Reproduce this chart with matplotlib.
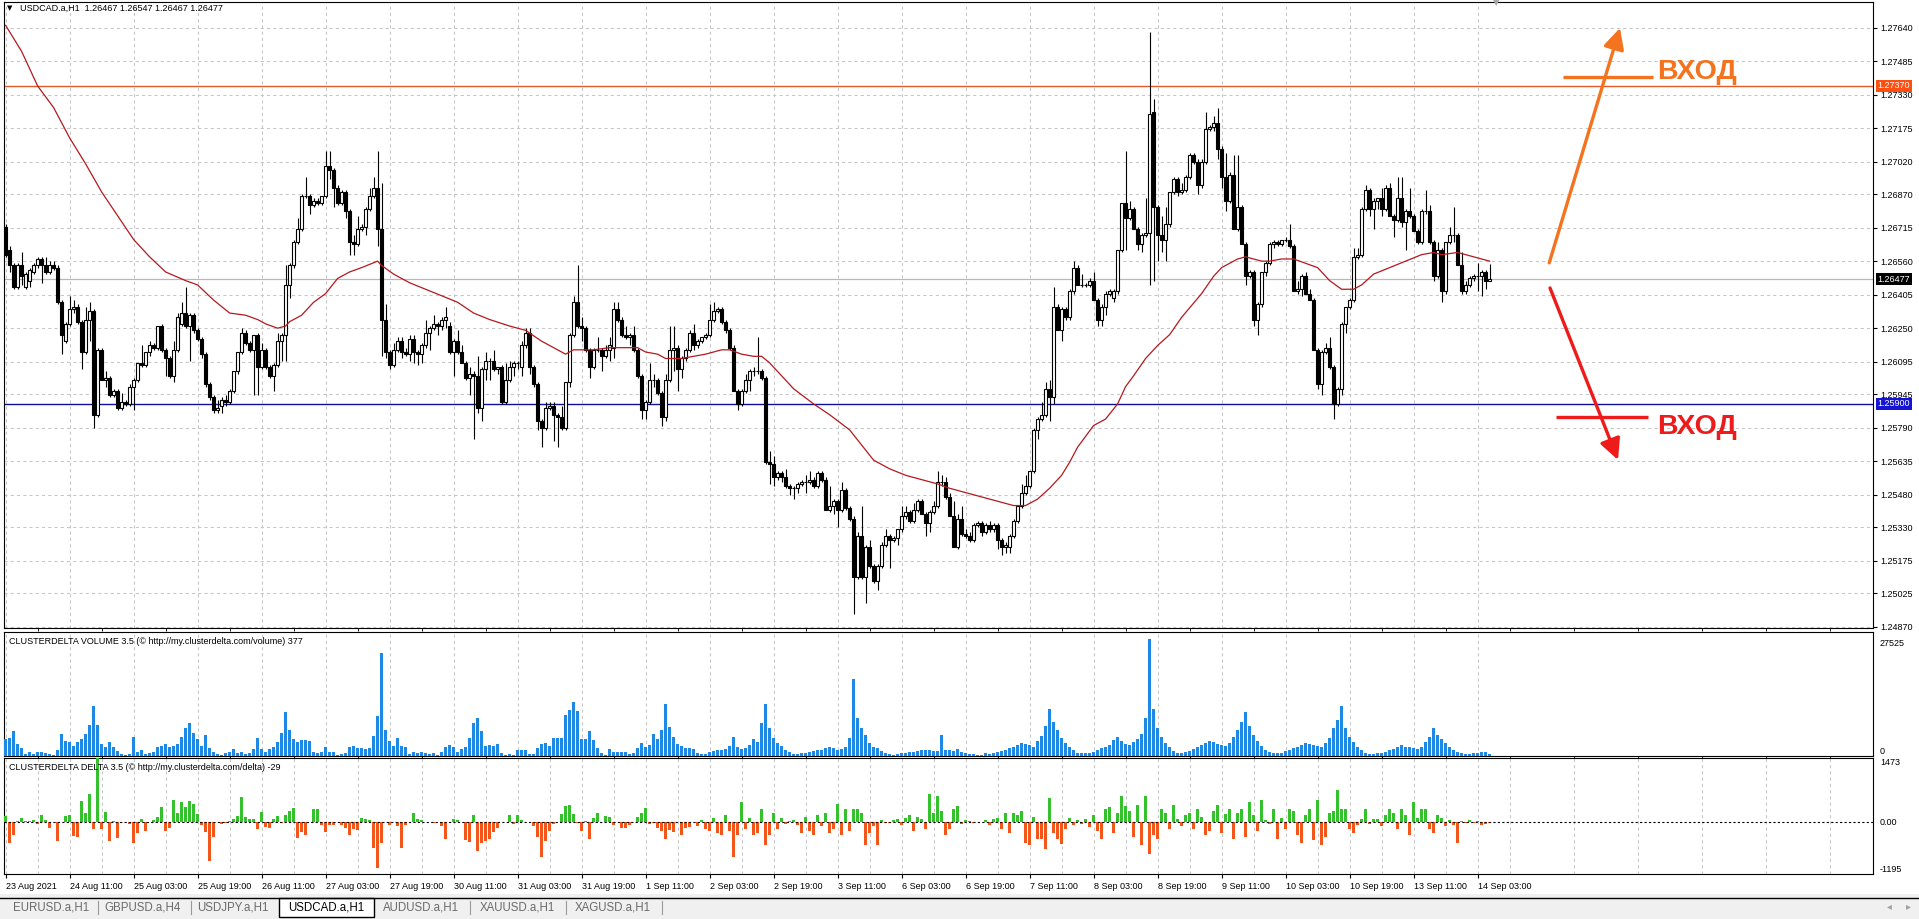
import numpy as np
import matplotlib.pyplot as plt
import matplotlib.transforms as mtransforms
from matplotlib.patches import Rectangle

plt.rcParams['font.family'] = ['Liberation Sans', 'DejaVu Sans']
plt.rcParams['axes.linewidth'] = 0.8

# USDCAD.a H1, bar 0 = 23 Aug 2021 19:00
opens = [
    1.2672, 1.2661, 1.2654, 1.2644, 1.2654, 1.2644, 1.2647, 1.2651, 1.2654, 1.2657, 1.2654, 1.2651,
    1.2654, 1.2653, 1.2637, 1.2619, 1.2627, 1.2634, 1.2635, 1.2628, 1.2614, 1.2629, 1.2633, 1.2585,
    1.2615, 1.2601, 1.2602, 1.2594, 1.2596, 1.2588, 1.2591, 1.2590, 1.2598, 1.2601, 1.2609, 1.2608,
    1.2614, 1.2617, 1.2616, 1.2626, 1.2615, 1.2611, 1.2603, 1.2615, 1.2627, 1.2632, 1.2626, 1.2631,
    1.2624, 1.2620, 1.2613, 1.2599, 1.2593, 1.2587, 1.2589, 1.2592, 1.2591, 1.2596, 1.2605, 1.2614,
    1.2623, 1.2618, 1.2615, 1.2622, 1.2607, 1.2615, 1.2607, 1.2603, 1.2608, 1.2619, 1.2622, 1.2645,
    1.2654, 1.2665, 1.2671, 1.2686, 1.2686, 1.2682, 1.2684, 1.2683, 1.2686, 1.2700, 1.2698, 1.2690,
    1.2683, 1.2688, 1.2679, 1.2665, 1.2664, 1.2671, 1.2672, 1.2680, 1.2686, 1.2690, 1.2671, 1.2629,
    1.2614, 1.2608, 1.2615, 1.2619, 1.2614, 1.2613, 1.2620, 1.2614, 1.2613, 1.2617, 1.2623, 1.2625,
    1.2627, 1.2626, 1.2629, 1.2626, 1.2614, 1.2619, 1.2614, 1.2609, 1.2602, 1.2604, 1.2603, 1.2588,
    1.2606, 1.2610, 1.2610, 1.2606, 1.2607, 1.2591, 1.2601, 1.2607, 1.2609, 1.2607, 1.2617, 1.2623,
    1.2607, 1.2599, 1.2582, 1.2579, 1.2588, 1.2589, 1.2585, 1.2584, 1.2579, 1.2600, 1.2622, 1.2637,
    1.2626, 1.2625, 1.2615, 1.2607, 1.2615, 1.2615, 1.2612, 1.2615, 1.2616, 1.2634, 1.2629, 1.2622,
    1.2621, 1.2622, 1.2615, 1.2603, 1.2587, 1.2591, 1.2601, 1.2601, 1.2595, 1.2584, 1.2601, 1.2615,
    1.2616, 1.2606, 1.2611, 1.2615, 1.2623, 1.2617, 1.2619, 1.2621, 1.2622, 1.2629, 1.2633, 1.2634,
    1.2628, 1.2624, 1.2616, 1.2596, 1.2590, 1.2596, 1.2601, 1.2605, 1.2605, 1.2605, 1.2602, 1.2563,
    1.2562, 1.2556, 1.2558, 1.2556, 1.2552, 1.2551, 1.2551, 1.2553, 1.2554, 1.2554, 1.2555, 1.2552,
    1.2558, 1.2555, 1.2541, 1.2543, 1.2545, 1.2541, 1.2550, 1.2542, 1.2537, 1.2510, 1.2529, 1.2510,
    1.2524, 1.2515, 1.2508, 1.2515, 1.2525, 1.2529, 1.2527, 1.2528, 1.2532, 1.2538, 1.2540, 1.2536,
    1.2541, 1.2545, 1.2539, 1.2535, 1.2540, 1.2543, 1.2554, 1.2554, 1.2547, 1.2538, 1.2524, 1.2537,
    1.2530, 1.2529, 1.2527, 1.2534, 1.2535, 1.2531, 1.2534, 1.2532, 1.2534, 1.2527, 1.2524, 1.2524,
    1.2529, 1.2536, 1.2543, 1.2549, 1.2552, 1.2559, 1.2578, 1.2583, 1.2585, 1.2597, 1.2593, 1.2635,
    1.2624, 1.2634, 1.2630, 1.2642, 1.2653, 1.2645, 1.2645, 1.2645, 1.2647, 1.2638, 1.2629, 1.2635,
    1.2641, 1.2639, 1.2642, 1.2661, 1.2683, 1.2676, 1.2680, 1.2671, 1.2664, 1.2668, 1.2669, 1.2725,
    1.2681, 1.2668, 1.2666, 1.2673, 1.2688, 1.2694, 1.2688, 1.2689, 1.2695, 1.2705, 1.2702, 1.2691,
    1.2702, 1.2717, 1.2718, 1.2720, 1.2708, 1.2695, 1.2684, 1.2696, 1.2671, 1.2681, 1.2664, 1.2649,
    1.2651, 1.2629, 1.2636, 1.2651, 1.2655, 1.2664, 1.2665, 1.2664, 1.2666, 1.2666, 1.2663, 1.2642,
    1.2643, 1.2649, 1.2641, 1.2638, 1.2615, 1.2599, 1.2614, 1.2616, 1.2607, 1.2590, 1.2597, 1.2627,
    1.2635, 1.2638, 1.2658, 1.2659, 1.2680, 1.2689, 1.2680, 1.2684, 1.2685, 1.2680, 1.2690, 1.2677,
    1.2675, 1.2685, 1.2674, 1.2679, 1.2677, 1.2670, 1.2665, 1.2679, 1.2679, 1.2665, 1.2649, 1.2661,
    1.2642, 1.2665, 1.2668, 1.2668, 1.2654, 1.2642, 1.2645, 1.2648, 1.2649, 1.2649, 1.2651, 1.26467,
]
highs = [
    1.2673, 1.2663, 1.2655, 1.2655, 1.2660, 1.2651, 1.2653, 1.2655, 1.2658, 1.2658, 1.2658, 1.2656,
    1.2656, 1.2654, 1.2638, 1.2628, 1.2640, 1.2638, 1.2636, 1.2629, 1.2635, 1.2637, 1.2634, 1.2616,
    1.2616, 1.2605, 1.2603, 1.2597, 1.2597, 1.2595, 1.2592, 1.2599, 1.2602, 1.2609, 1.2617, 1.2614,
    1.2619, 1.2618, 1.2626, 1.2627, 1.2616, 1.2612, 1.2619, 1.2632, 1.2637, 1.2644, 1.2632, 1.2632,
    1.2625, 1.2621, 1.2614, 1.2600, 1.2594, 1.2592, 1.2593, 1.2594, 1.2597, 1.2605, 1.2614, 1.2625,
    1.2624, 1.2619, 1.2622, 1.2623, 1.2618, 1.2616, 1.2608, 1.2609, 1.2623, 1.2623, 1.2654, 1.2655,
    1.2666, 1.2676, 1.2687, 1.2695, 1.2687, 1.2685, 1.2685, 1.2686, 1.2707, 1.2707, 1.2699, 1.2691,
    1.2689, 1.2689, 1.2680, 1.2668, 1.2677, 1.2673, 1.2681, 1.2690, 1.2695, 1.2707, 1.2692, 1.2636,
    1.2615, 1.2618, 1.2621, 1.2621, 1.2616, 1.2622, 1.2622, 1.2615, 1.2618, 1.2629, 1.2626, 1.2631,
    1.2628, 1.2630, 1.2635, 1.2628, 1.2620, 1.2624, 1.2617, 1.2610, 1.2607, 1.2605, 1.2612, 1.2607,
    1.2614, 1.2611, 1.2615, 1.2607, 1.2608, 1.2609, 1.2610, 1.2610, 1.2610, 1.2619, 1.2625, 1.2625,
    1.2608, 1.2600, 1.2583, 1.2591, 1.2591, 1.2591, 1.2586, 1.2589, 1.2600, 1.2623, 1.2640, 1.2654,
    1.2630, 1.2626, 1.2616, 1.2616, 1.2621, 1.2616, 1.2617, 1.2621, 1.2637, 1.2637, 1.2630, 1.2626,
    1.2623, 1.2626, 1.2616, 1.2604, 1.2592, 1.2609, 1.2604, 1.2602, 1.2596, 1.2604, 1.2626, 1.2626,
    1.2617, 1.2612, 1.2616, 1.2624, 1.2627, 1.2620, 1.2621, 1.2623, 1.2636, 1.2637, 1.2635, 1.2635,
    1.2629, 1.2625, 1.2617, 1.2597, 1.2597, 1.2604, 1.2606, 1.2607, 1.2621, 1.2606, 1.2603, 1.2568,
    1.2566, 1.2559, 1.2559, 1.2560, 1.2553, 1.2552, 1.2554, 1.2555, 1.2557, 1.2559, 1.2556, 1.2559,
    1.2559, 1.2556, 1.2552, 1.2546, 1.2546, 1.2554, 1.2551, 1.2543, 1.2538, 1.2531, 1.2543, 1.2525,
    1.2527, 1.2516, 1.2516, 1.2526, 1.2532, 1.2530, 1.2529, 1.2532, 1.2543, 1.2543, 1.2541, 1.2544,
    1.2546, 1.2546, 1.2540, 1.2541, 1.2545, 1.2559, 1.2557, 1.2556, 1.2549, 1.2545, 1.2539, 1.2543,
    1.2532, 1.2531, 1.2535, 1.2536, 1.2536, 1.2535, 1.2536, 1.2535, 1.2535, 1.2528, 1.2526, 1.2530,
    1.2537, 1.2543, 1.2553, 1.2557, 1.2559, 1.2579, 1.2584, 1.2591, 1.2600, 1.2601, 1.2644, 1.2636,
    1.2635, 1.2635, 1.2643, 1.2656, 1.2654, 1.2650, 1.2646, 1.2648, 1.2651, 1.2639, 1.2636, 1.2642,
    1.2643, 1.2643, 1.2661, 1.2683, 1.2707, 1.2684, 1.2681, 1.2672, 1.2669, 1.2685, 1.2762, 1.2731,
    1.2682, 1.2677, 1.2681, 1.2688, 1.2695, 1.2695, 1.2692, 1.2696, 1.2706, 1.2706, 1.2703, 1.2703,
    1.2725, 1.2719, 1.2723, 1.2727, 1.2709, 1.2706, 1.2697, 1.2705, 1.2705, 1.2682, 1.2665, 1.2652,
    1.2652, 1.2637, 1.2651, 1.2656, 1.2665, 1.2666, 1.2666, 1.2666, 1.2667, 1.2673, 1.2664, 1.2647,
    1.2650, 1.2651, 1.2643, 1.2639, 1.2616, 1.2615, 1.2618, 1.2621, 1.2608, 1.2598, 1.2628, 1.2635,
    1.2639, 1.2662, 1.2662, 1.2681, 1.2691, 1.2690, 1.2685, 1.2685, 1.2690, 1.2691, 1.2692, 1.2678,
    1.2695, 1.2695, 1.2680, 1.2690, 1.2678, 1.2671, 1.2680, 1.2689, 1.2682, 1.2666, 1.2665, 1.2662,
    1.2665, 1.2672, 1.2681, 1.2669, 1.2660, 1.2647, 1.2649, 1.2650, 1.2655, 1.2652, 1.2652, 1.26547,
]
lows = [
    1.2658, 1.2651, 1.2643, 1.2643, 1.2645, 1.2643, 1.2644, 1.2650, 1.2653, 1.2646, 1.2650, 1.2650,
    1.2652, 1.2636, 1.2613, 1.2618, 1.2626, 1.2632, 1.2627, 1.2606, 1.2613, 1.2619, 1.2579, 1.2584,
    1.2601, 1.2598, 1.2593, 1.2593, 1.2587, 1.2587, 1.2589, 1.2589, 1.2587, 1.2600, 1.2607, 1.2607,
    1.2612, 1.2615, 1.2615, 1.2614, 1.2603, 1.2602, 1.2600, 1.2614, 1.2626, 1.2625, 1.2610, 1.2623,
    1.2619, 1.2611, 1.2598, 1.2592, 1.2586, 1.2586, 1.2586, 1.2589, 1.2590, 1.2595, 1.2604, 1.2613,
    1.2617, 1.2614, 1.2594, 1.2594, 1.2606, 1.2606, 1.2602, 1.2596, 1.2607, 1.2610, 1.2610, 1.2639,
    1.2653, 1.2664, 1.2670, 1.2685, 1.2678, 1.2681, 1.2682, 1.2682, 1.2685, 1.2694, 1.2681, 1.2682,
    1.2682, 1.2676, 1.2659, 1.2659, 1.2663, 1.2670, 1.2668, 1.2679, 1.2685, 1.2663, 1.2612, 1.2611,
    1.2606, 1.2607, 1.2614, 1.2611, 1.2612, 1.2610, 1.2609, 1.2608, 1.2609, 1.2616, 1.2615, 1.2624,
    1.2622, 1.2624, 1.2625, 1.2613, 1.2603, 1.2613, 1.2609, 1.2601, 1.2594, 1.2574, 1.2586, 1.2582,
    1.2601, 1.2601, 1.2605, 1.2604, 1.2590, 1.2590, 1.2600, 1.2603, 1.2606, 1.2603, 1.2616, 1.2604,
    1.2598, 1.2578, 1.2570, 1.2578, 1.2587, 1.2573, 1.2570, 1.2578, 1.2578, 1.2598, 1.2621, 1.2625,
    1.2619, 1.2614, 1.2602, 1.2606, 1.2614, 1.2605, 1.2611, 1.2610, 1.2611, 1.2628, 1.2621, 1.2620,
    1.2617, 1.2614, 1.2602, 1.2583, 1.2583, 1.2590, 1.2598, 1.2594, 1.2580, 1.2582, 1.2600, 1.2605,
    1.2596, 1.2602, 1.2610, 1.2614, 1.2615, 1.2616, 1.2618, 1.2620, 1.2621, 1.2628, 1.2632, 1.2627,
    1.2623, 1.2615, 1.2596, 1.2587, 1.2589, 1.2595, 1.2596, 1.2603, 1.2604, 1.2601, 1.2562, 1.2553,
    1.2552, 1.2555, 1.2554, 1.2551, 1.2548, 1.2546, 1.2549, 1.2552, 1.2549, 1.2553, 1.2551, 1.2551,
    1.2554, 1.2541, 1.2540, 1.2539, 1.2533, 1.2540, 1.2541, 1.2536, 1.2493, 1.2509, 1.2509, 1.2498,
    1.2514, 1.2507, 1.2504, 1.2514, 1.2524, 1.2514, 1.2526, 1.2525, 1.2531, 1.2537, 1.2535, 1.2535,
    1.2540, 1.2539, 1.2529, 1.2531, 1.2539, 1.2542, 1.2552, 1.2546, 1.2538, 1.2524, 1.2523, 1.2529,
    1.2528, 1.2526, 1.2526, 1.2533, 1.2529, 1.2530, 1.2531, 1.2531, 1.2523, 1.2520, 1.2521, 1.2521,
    1.2528, 1.2535, 1.2542, 1.2548, 1.2551, 1.2558, 1.2574, 1.2582, 1.2584, 1.2582, 1.2590, 1.2624,
    1.2619, 1.2629, 1.2629, 1.2641, 1.2645, 1.2644, 1.2644, 1.2644, 1.2638, 1.2626, 1.2626, 1.2631,
    1.2640, 1.2637, 1.2641, 1.2660, 1.2661, 1.2675, 1.2671, 1.2661, 1.2660, 1.2667, 1.2645, 1.2647,
    1.2656, 1.2660, 1.2656, 1.2672, 1.2687, 1.2686, 1.2687, 1.2688, 1.2694, 1.2701, 1.2687, 1.2690,
    1.2701, 1.2716, 1.2716, 1.2703, 1.2690, 1.2679, 1.2683, 1.2671, 1.2670, 1.2664, 1.2645, 1.2648,
    1.2626, 1.2622, 1.2635, 1.2649, 1.2654, 1.2662, 1.2663, 1.2663, 1.2665, 1.2662, 1.2642, 1.2641,
    1.2640, 1.2641, 1.2638, 1.2615, 1.2597, 1.2594, 1.2613, 1.2606, 1.2583, 1.2589, 1.2594, 1.2623,
    1.2634, 1.2637, 1.2657, 1.2658, 1.2679, 1.2677, 1.2671, 1.2680, 1.2677, 1.2679, 1.2677, 1.2667,
    1.2674, 1.2672, 1.2661, 1.2676, 1.2670, 1.2664, 1.2664, 1.2678, 1.2664, 1.2647, 1.2648, 1.2637,
    1.2641, 1.2664, 1.2665, 1.2654, 1.2641, 1.2641, 1.2644, 1.2647, 1.2642, 1.2640, 1.2643, 1.26467,
]
closes = [
    1.2659, 1.2654, 1.2644, 1.2654, 1.2649, 1.2650, 1.2652, 1.2654, 1.2657, 1.2654, 1.2651, 1.2654,
    1.2653, 1.2637, 1.2622, 1.2627, 1.2634, 1.2635, 1.2628, 1.2614, 1.2629, 1.2633, 1.2585, 1.2615,
    1.2601, 1.2602, 1.2594, 1.2596, 1.2588, 1.2591, 1.2590, 1.2598, 1.2601, 1.2609, 1.2608, 1.2614,
    1.2617, 1.2616, 1.2626, 1.2615, 1.2611, 1.2603, 1.2615, 1.2630, 1.2632, 1.2626, 1.2631, 1.2624,
    1.2620, 1.2613, 1.2599, 1.2593, 1.2587, 1.2588, 1.2592, 1.2591, 1.2596, 1.2605, 1.2614, 1.2623,
    1.2618, 1.2615, 1.2622, 1.2607, 1.2615, 1.2607, 1.2603, 1.2608, 1.2619, 1.2622, 1.2645, 1.2654,
    1.2665, 1.2671, 1.2686, 1.2686, 1.2682, 1.2684, 1.2683, 1.2686, 1.2700, 1.2698, 1.2690, 1.2683,
    1.2688, 1.2679, 1.2665, 1.2664, 1.2671, 1.2672, 1.2680, 1.2686, 1.2690, 1.2671, 1.2629, 1.2614,
    1.2608, 1.2615, 1.2619, 1.2614, 1.2613, 1.2620, 1.2614, 1.2613, 1.2617, 1.2623, 1.2625, 1.2627,
    1.2626, 1.2629, 1.2630, 1.2614, 1.2619, 1.2614, 1.2609, 1.2602, 1.2604, 1.2603, 1.2588, 1.2606,
    1.2610, 1.2610, 1.2606, 1.2607, 1.2591, 1.2601, 1.2607, 1.2609, 1.2609, 1.2617, 1.2623, 1.2607,
    1.2599, 1.2582, 1.2579, 1.2588, 1.2589, 1.2585, 1.2584, 1.2579, 1.2600, 1.2622, 1.2637, 1.2626,
    1.2625, 1.2615, 1.2607, 1.2615, 1.2615, 1.2612, 1.2615, 1.2617, 1.2634, 1.2629, 1.2622, 1.2621,
    1.2622, 1.2615, 1.2603, 1.2587, 1.2591, 1.2601, 1.2601, 1.2595, 1.2584, 1.2601, 1.2615, 1.2616,
    1.2606, 1.2611, 1.2615, 1.2623, 1.2617, 1.2619, 1.2621, 1.2622, 1.2629, 1.2633, 1.2634, 1.2628,
    1.2624, 1.2616, 1.2596, 1.2590, 1.2596, 1.2601, 1.2605, 1.2605, 1.2605, 1.2602, 1.2563, 1.2562,
    1.2556, 1.2558, 1.2556, 1.2552, 1.2551, 1.2551, 1.2553, 1.2554, 1.2554, 1.2555, 1.2552, 1.2558,
    1.2555, 1.2541, 1.2543, 1.2545, 1.2541, 1.2550, 1.2542, 1.2537, 1.2510, 1.2529, 1.2510, 1.2524,
    1.2515, 1.2508, 1.2515, 1.2525, 1.2529, 1.2527, 1.2528, 1.2532, 1.2538, 1.2540, 1.2536, 1.2541,
    1.2545, 1.2539, 1.2535, 1.2540, 1.2543, 1.2554, 1.2554, 1.2547, 1.2538, 1.2524, 1.2537, 1.2530,
    1.2529, 1.2527, 1.2534, 1.2535, 1.2531, 1.2534, 1.2532, 1.2534, 1.2527, 1.2524, 1.2525, 1.2529,
    1.2536, 1.2543, 1.2549, 1.2552, 1.2559, 1.2578, 1.2583, 1.2585, 1.2597, 1.2593, 1.2635, 1.2624,
    1.2634, 1.2630, 1.2642, 1.2653, 1.2645, 1.2645, 1.2645, 1.2647, 1.2638, 1.2629, 1.2635, 1.2641,
    1.2642, 1.2642, 1.2661, 1.2683, 1.2676, 1.2680, 1.2671, 1.2664, 1.2668, 1.2669, 1.2724, 1.2681,
    1.2668, 1.2666, 1.2673, 1.2688, 1.2694, 1.2688, 1.2689, 1.2695, 1.2705, 1.2702, 1.2691, 1.2702,
    1.2717, 1.2718, 1.2720, 1.2708, 1.2695, 1.2684, 1.2696, 1.2671, 1.2681, 1.2664, 1.2649, 1.2651,
    1.2629, 1.2636, 1.2651, 1.2655, 1.2664, 1.2665, 1.2664, 1.2666, 1.2666, 1.2663, 1.2642, 1.2643,
    1.2649, 1.2641, 1.2638, 1.2615, 1.2599, 1.2614, 1.2616, 1.2607, 1.2590, 1.2597, 1.2627, 1.2635,
    1.2638, 1.2658, 1.2659, 1.2680, 1.2689, 1.2680, 1.2684, 1.2685, 1.2680, 1.2690, 1.2677, 1.2675,
    1.2685, 1.2674, 1.2679, 1.2677, 1.2670, 1.2665, 1.2679, 1.2679, 1.2665, 1.2649, 1.2661, 1.2642,
    1.2665, 1.2668, 1.2668, 1.2654, 1.2642, 1.2645, 1.2648, 1.2649, 1.2649, 1.2651, 1.2647, 1.26477,
]

# moving average (red line), read at selected bars
ma_bars = [0, 4, 8, 12, 16, 20, 24, 28, 32, 36, 40, 45, 48, 52, 56, 60, 63, 65, 68, 70,
           71, 74, 77, 80, 83, 86, 89, 93, 94, 97, 101, 105, 109, 113, 117, 121, 126, 130, 134, 137,
           140, 142, 147, 151, 155, 158, 160, 163, 165, 169, 172, 175, 179, 181, 184, 187, 189, 191, 193, 197,
           202, 206, 211, 214, 217, 221, 225, 229, 233, 236, 240, 244, 248, 252, 255, 258, 261, 264, 266, 268,
           272, 275, 278, 280, 282, 285, 288, 291, 294, 299, 302, 304, 308, 310, 314, 316, 319, 322, 325, 328,
           331, 334, 337, 339, 342, 346, 350, 354, 357, 359, 363, 365, 367, 371]
ma_vals = [1.2765, 1.2753, 1.2737, 1.2727, 1.2713, 1.2701, 1.2688, 1.2677, 1.2666, 1.2658,
           1.2651, 1.2647, 1.2645, 1.2638, 1.2632, 1.2631, 1.2629, 1.2627, 1.2625, 1.2626,
           1.2628, 1.2631, 1.2637, 1.2641, 1.2648, 1.2651, 1.2653, 1.2656, 1.2654, 1.2650,
           1.2646, 1.2643, 1.2640, 1.2637, 1.2632, 1.2629, 1.2626, 1.2624, 1.2619, 1.2616,
           1.2613, 1.2615, 1.2615, 1.2616, 1.2616, 1.2616, 1.2614, 1.2613, 1.2611, 1.2611,
           1.2612, 1.2613, 1.2615, 1.2615, 1.2613, 1.2612, 1.2612, 1.2609, 1.2605, 1.2597,
           1.2590, 1.2585, 1.2578, 1.2571, 1.2564, 1.2560, 1.2557, 1.2555, 1.2553, 1.2551,
           1.2549, 1.2547, 1.2545, 1.2543, 1.2543, 1.2546, 1.2551, 1.2557, 1.2563, 1.2570,
           1.2580, 1.2583, 1.2590, 1.2598, 1.2603, 1.2611, 1.2617, 1.2622, 1.2630, 1.2641,
           1.2649, 1.2653, 1.2657, 1.2658, 1.2656, 1.2656, 1.2657, 1.2657, 1.2655, 1.2653,
           1.2647, 1.2643, 1.2643, 1.2645, 1.2650, 1.2653, 1.2656, 1.2659, 1.2660, 1.2659,
           1.2660, 1.2659, 1.2658, 1.2656]

volume = [
    3890, 4120, 5840, 2720, 1950, 390, 930, 390, 930, 930,
    620, 390, 230, 1320, 5060, 3500, 3350, 2330, 3350, 3890,
    5210, 7390, 11670, 7390, 2720, 2100, 3350, 2100, 1170, 390,
    230, 540, 4430, 930, 1320, 390, 620, 930, 2100, 2330,
    2720, 2100, 2330, 2720, 4430, 6610, 7780, 5450, 3890, 2330,
    4900, 1950, 930, 390, 230, 620, 930, 1560, 620, 930,
    390, 620, 1560, 4280, 1560, 930, 1560, 2100, 3350, 5450,
    10350, 6220, 3890, 3350, 3730, 3730, 3500, 930, 780, 930,
    2100, 930, 930, 230, 390, 780, 2100, 2330, 1950, 1950,
    1560, 1790, 4670, 9340, 24120, 6220, 3500, 2330, 4120, 2330,
    2100, 390, 930, 620, 930, 620, 390, 780, 230, 930,
    2100, 2570, 2100, 930, 1560, 2100, 4120, 7780, 8950, 5990,
    2330, 2570, 2330, 2720, 620, 230, 390, 230, 1400, 1400,
    1400, 390, 390, 1950, 2880, 3110, 2330, 4120, 4120, 4120,
    9730, 10890, 12680, 10660, 3890, 3890, 5990, 3660, 1950, 620,
    230, 1710, 1010, 1010, 1010, 930, 390, 620, 1950, 3110,
    2100, 2570, 5210, 3890, 6220, 12210, 6770, 4430, 2720, 2330,
    1950, 1790, 1560,
    600, 400, 500, 900, 1200, 1500, 1400, 1600, 2300, 4500, 2000, 1600,
    1900, 2600, 4000, 3300, 7800, 12200, 6500, 4200, 3000, 2400, 1500, 900,
    500, 400, 600, 700, 900, 1200, 1500, 1400, 1800, 2000, 1800, 1500,
    1700, 2200, 4200, 18000, 9000, 6500, 5000, 3000, 2200, 1800, 1200, 600,
    400, 300, 500, 700, 800, 900, 1000, 1200, 1500, 1400, 1300, 1100,
    1200, 5000, 1500, 1300, 1100, 1600, 900, 700, 500, 400, 300, 200,
    600, 500, 700, 900, 1200, 1500, 1800, 2000, 2600, 3000, 2800, 2500,
    2200, 3500, 4800, 7000, 11100, 8000, 6000, 4200, 3000, 2000, 1400, 800,
    700, 600, 800, 1000, 1500, 1800, 2200, 2600, 3800, 4500, 3500, 2800,
    2600, 3200, 4000, 5200, 9000, 27525, 11000, 6500, 4500, 3000, 2000, 1200,
    800, 600, 900, 1200, 1600, 2000, 2600, 3000, 3600, 3200, 2800, 2500,
    2400, 3000, 4500, 6000, 8000, 10300, 7000, 5000, 3500, 2400, 1500, 900,
    700, 600, 800, 1100, 1500, 1800, 2200, 2500, 3000, 2800, 2500, 2300,
    2200, 3000, 4200, 6500, 8500, 11700, 6500, 4500, 3200, 2200, 1400, 800,
    500, 400, 600, 800, 1000, 1300, 1600, 2000, 2500, 2200, 2000, 1800,
    1700, 2200, 3200, 4500, 6500, 5000, 4000, 3000, 2200, 1500, 1000, 600,
    500, 400, 600, 700, 900, 1000, 377,
]

delta = [
    130, -480, -290, 20, 90, 30, 30, 50, -40, 170,
    50, -140, 10, -440, 0, 130, 150, -330, -345, 475,
    200, 650, -160, 1473, -170, 230, -440, 20, -360, 0,
    0, -40, -480, -250, 70, -200, 0, 50, 120, 350,
    -200, -140, 500, 200, 450, 350, 490, 420, 190, -80,
    -230, -890, -350, 0, -40, -20, 30, 70, 130, 580,
    120, 70, 80, -160, 230, -110, -140, 70, 130, -30,
    160, 250, 320, -370, -230, -310, 0, 310, 310, -60,
    -230, -80, -80, 0, -70, -140, -300, -170, -180, 100,
    80, 50, -600, -1050, -480, 0, -60, 0, -100, -600,
    -60, 0, 200, 60, 40, 0, -10, -20, 0, -90,
    -380, 0, 60, 40, 0, -420, -460, 150, -670, -490,
    -430, -390, -230, -130, 0, 0, 160, -50, 150, 40,
    0, 0, -100, -350, -810, -430, -210, -40, 0, 190,
    370, 400, 190, -20, -200, 20, -400, 100, 200, 0,
    140, 110, -80, 0, -140, -130, -60, 0, 120, 210,
    320, -50, -30, -130, -200, -380, -190, -220, 0, -300,
    -130, -110, 0,
    -100, 50, -150, -200, 100, -250, -300, 150, -200, -815, -300, 450,
    -150, 100, -300, -250, 300, -535, -300, 200, -150, 100, -50, 30,
    40, -60, -250, 120, -200, -300, 150, -100, 200, -250, -150, 420,
    -300, 310, -200, 310, 300, 200, -535, -250, -100, -535, 40, -30,
    -30, 50, 60, -80, 100, 150, -200, 120, 80, -150, 650, 200,
    590, 250, -300, -150, 310, 360, -50, 40, 30, -20, 10, 0,
    50, -80, 60, 100, -150, 200, -250, 200, 150, 250, -480, -535,
    120, -400, -395, -620, 550, -250, -395, -500, -150, 100, -80, 40,
    -50, 80, -120, 150, -200, -400, 300, 350, -250, 200, 590, 365,
    250, -350, 400, -535, 590, -730, -300, -395, 300, 200, -150, 395,
    70, -90, 150, 200, -150, 300, 120, -300, -200, 250, 400, -250,
    180, 300, -400, 200, 310, -350, 450, 150, -200, 510, 50, -40,
    310, -395, 100, -150, 310, 250, -300, -480, 150, 300, -420, 500,
    -535, -350, 200, 250, 730, 300, 310, -150, -253, -80, 60, 310,
    -40, 60, 80, -100, 150, 310, 200, -150, 310, 150, -300, 450,
    100, 310, 300, -150, -253, 150, 100, -100, 50, -60, -480, 20,
    -30, 40, -20, 30, -60, -40, -29,
]

date_labels = ['23 Aug 2021', '24 Aug 11:00', '25 Aug 03:00', '25 Aug 19:00', '26 Aug 11:00',
               '27 Aug 03:00', '27 Aug 19:00', '30 Aug 11:00', '31 Aug 03:00', '31 Aug 19:00',
               '1 Sep 11:00', '2 Sep 03:00', '2 Sep 19:00', '3 Sep 11:00', '6 Sep 03:00',
               '6 Sep 19:00', '7 Sep 11:00', '8 Sep 03:00', '8 Sep 19:00', '9 Sep 11:00',
               '10 Sep 03:00', '10 Sep 19:00', '13 Sep 11:00', '14 Sep 03:00']
price_ticks = [1.27640, 1.27485, 1.27330, 1.27175, 1.27020, 1.26870, 1.26715, 1.26560, 1.26405,
               1.26250, 1.26095, 1.25945, 1.25790, 1.25635, 1.25480, 1.25330, 1.25175, 1.25025, 1.24870]
level_up = 1.27370
level_down = 1.25900
last_price = 1.26477
tabs = ['EURUSD.a,H1', 'GBPUSD.a,H4', 'USDJPY.a,H1', 'USDCAD.a,H1', 'AUDUSD.a,H1', 'XAUUSD.a,H1', 'XAGUSD.a,H1']

W, H = 1919, 919
fig = plt.figure(figsize=(W / 100, H / 100), dpi=100)
fig.patch.set_facecolor('white')


def box(x0, y0, x1, y1):
    return [x0 / W, 1 - y1 / H, (x1 - x0) / W, (y1 - y0) / H]


ax = fig.add_axes(box(4, 2, 1873, 628))
axv = fig.add_axes(box(4, 632, 1873, 756), sharex=ax)
axd = fig.add_axes(box(4, 758, 1873, 874), sharex=ax)

grid_kw = dict(color='#c6c6c6', linestyle=(0, (3, 3)), linewidth=0.75)
bar_pos = np.arange(0, 465, 8)
label_pos = np.arange(0, 16 * len(date_labels), 16)

# --- price panel ---
o = np.array(opens); h = np.array(highs); l = np.array(lows); c = np.array(closes)
idx = np.arange(len(c))
up = c >= o
ax.vlines(idx, np.minimum(l, np.minimum(o, c)), np.maximum(h, np.maximum(o, c)),
          color='black', linewidth=0.8, zorder=3)
ax.bar(idx[up], (c - o)[up], bottom=o[up], width=0.62, color='white',
       edgecolor='black', linewidth=0.8, zorder=4)
ax.bar(idx[~up], (o - c)[~up], bottom=c[~up], width=0.62, color='black',
       edgecolor='black', linewidth=0.8, zorder=4)
ax.plot(ma_bars, ma_vals, color='#b3191e', linewidth=0.9, zorder=5)

ax.axhline(level_up, color='#e35b2b', linewidth=1.0, zorder=2)
ax.axhline(level_down, color='#10109c', linewidth=1.0, zorder=2)
ax.axhline(last_price, color='#b8b8b8', linewidth=0.9, zorder=2)

ax.set_xlim(-0.4, 466.85)
ax.set_ylim(1.24864, 1.27758)
ax.set_yticks(price_ticks)
ax.set_yticklabels(['%.5f' % v for v in price_ticks])
ax.set_xticks(bar_pos)
ax.grid(True, **grid_kw)
ax.set_axisbelow(True)
ax.yaxis.tick_right()
ax.tick_params(axis='y', direction='out', length=3, width=0.8, pad=2, labelsize=6.5)
ax.tick_params(axis='x', length=0, labelbottom=False)

trans = mtransforms.blended_transform_factory(ax.transAxes, ax.transData)
for val, fc in [(level_up, '#ff4f10'), (last_price, 'black'), (level_down, '#1414d2')]:
    ax.text(1.0025, val, '%.5f' % val, transform=trans, fontsize=6.5, color='white',
            va='center', ha='left', zorder=10,
            bbox=dict(boxstyle='square,pad=0.18', fc=fc, ec='none'))

# trade idea arrows
orange = '#f4731f'
red = '#ee1b1b'
ax.annotate('', xy=(403.6, 1.27638), xytext=(385.9, 1.26552),
            arrowprops=dict(arrowstyle='-|>,head_length=0.9,head_width=0.45', color=orange,
                            lw=2.4, mutation_scale=14, shrinkA=0, shrinkB=0))
ax.plot([389.4, 411.9], [1.27412, 1.27412], color=orange, linewidth=2.4, solid_capstyle='butt')
ax.text(412.9, 1.27435, 'ВХОД', color=orange, fontsize=20.5, fontweight='bold', va='center', ha='left')
ax.annotate('', xy=(403.1, 1.25641), xytext=(386.1, 1.26436),
            arrowprops=dict(arrowstyle='-|>,head_length=0.9,head_width=0.45', color=red,
                            lw=2.4, mutation_scale=14, shrinkA=0, shrinkB=0))
ax.plot([387.6, 410.6], [1.25840, 1.25840], color=red, linewidth=2.4, solid_capstyle='butt')
ax.text(412.9, 1.25794, 'ВХОД', color=red, fontsize=20.5, fontweight='bold', va='center', ha='left')

# --- volume panel ---
axv.bar(np.arange(len(volume)), volume, width=0.72, color='#1e88e5', linewidth=0, zorder=3)
axv.set_ylim(0, 27525 * 124 / 117)
axv.set_yticks([0, 27525])
axv.set_yticklabels(['0', '27525'])
axv.yaxis.tick_right()
axv.tick_params(axis='y', length=0, pad=5, labelsize=6.5)
axv.tick_params(axis='x', length=0, labelbottom=False)
axv.get_yticklabels()[0].set_va('bottom')
axv.get_yticklabels()[1].set_va('top')
axv.grid(True, axis='x', **grid_kw)
axv.set_axisbelow(True)

# --- delta panel ---
dcol = ['#35c02d' if v >= 0 else '#f2561a' for v in delta]
axd.bar(np.arange(len(delta)), delta, width=0.72, color=dcol, linewidth=0, zorder=3)
axd.axhline(0, color='black', linestyle=(0, (2, 2)), linewidth=0.8, zorder=4)
axd.set_ylim(-1197, 1473)
axd.set_yticks([-1195, 0, 1473])
axd.set_yticklabels(['-1195', '0.00', '1473'])
axd.yaxis.tick_right()
axd.tick_params(axis='y', length=0, pad=5, labelsize=6.5)
ylbl = axd.get_yticklabels()
ylbl[0].set_va('bottom')
ylbl[2].set_va('top')
axd.set_xticks(label_pos)
axd.set_xticklabels(date_labels)
axd.set_xticks(bar_pos[bar_pos % 16 == 8], minor=True)
axd.tick_params(axis='x', which='major', length=3, width=0.8, pad=2.5, labelsize=6.5)
axd.tick_params(axis='x', which='minor', length=0)
for t in axd.get_xticklabels():
    t.set_ha('left')
axd.grid(True, axis='x', which='both', **grid_kw)
axd.set_axisbelow(True)

for a in (ax, axv, axd):
    for s in a.spines.values():
        s.set_color('black')

# --- texts ---
def ftext(x, y, s, **kw):
    fig.text(x / W, 1 - y / H, s, **kw)


ftext(7, 8, '▼', fontsize=5, va='center', ha='left', family=['DejaVu Sans'])
ftext(20, 8, 'USDCAD.a,H1  1.26467 1.26547 1.26467 1.26477', fontsize=6.5, va='center', ha='left')
ftext(1496, 3, '▼', fontsize=6, va='center', ha='center', color='#a8a8a8', family=['DejaVu Sans'])
ftext(9, 641, 'CLUSTERDELTA VOLUME 3.5 (© http://my.clusterdelta.com/volume) 377',
      fontsize=6.5, va='center', ha='left')
ftext(9, 768, 'CLUSTERDELTA DELTA 3.5 (© http://my.clusterdelta.com/delta) -29',
      fontsize=6.5, va='center', ha='left')

# --- tab bar ---
axt = fig.add_axes(box(0, 876, W, H))
axt.set_xlim(0, W)
axt.set_ylim(H, 876)
axt.axis('off')
axt.add_patch(Rectangle((0, 894), W, 25, fc='#f0f0f0', ec='none'))
axt.plot([0, W], [897.5, 897.5], color='black', linewidth=1.0)
axt.add_patch(Rectangle((279, 897.5), 95, 19, fc='white', ec='black', linewidth=1.0))
for sx in [98, 191, 470, 566, 662]:
    axt.plot([sx, sx], [901, 914], color='#9a9a9a', linewidth=0.8)
tab_x = [51, 143, 233, 326, 421, 517, 613]
for name, tx in zip(tabs, tab_x):
    axt.text(tx, 907.5, name, fontsize=8.3, ha='center', va='center',
             color='black' if name == 'USDCAD.a,H1' else '#6a6a6a')
axt.text(1889, 906, '◂', fontsize=7, ha='center', va='center', color='#a0a0a0', family=['DejaVu Sans'])
axt.text(1908, 906, '▸', fontsize=7, ha='center', va='center', color='#a0a0a0', family=['DejaVu Sans'])

fig.savefig('out.png', dpi=100)
